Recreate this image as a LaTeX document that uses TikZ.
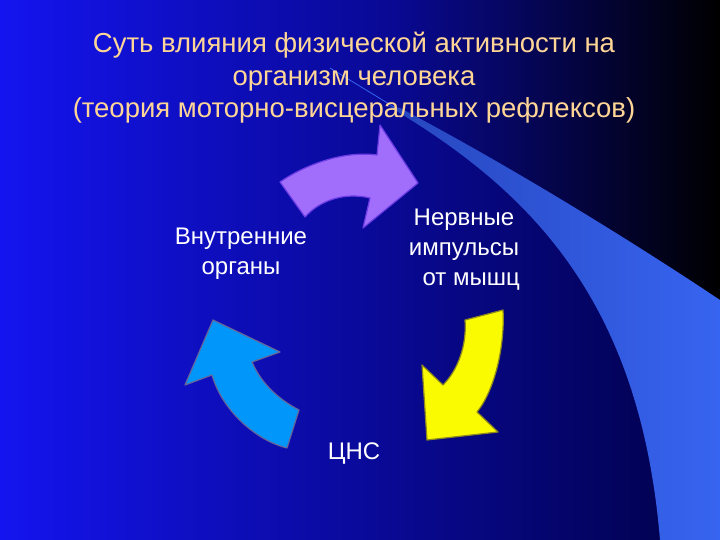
\documentclass[tikz,border=0pt]{standalone}
\usepackage{fontspec}
\setmainfont{Liberation Sans}
\begin{document}
\begin{tikzpicture}[x=1pt,y=-1pt,
  title/.style={text=titlec,font=\fontsize{27.5}{32.5}\selectfont,align=center},
  lab/.style={text=white,font=\fontsize{24}{30}\selectfont,align=center},
  arr/.style={line width=1.2pt,line join=round}]
\definecolor{titlec}{RGB}{255,214,150}
\definecolor{bgl}{RGB}{20,20,240}
\definecolor{bgr}{RGB}{0,0,70}
\definecolor{swoosh}{RGB}{55,100,240}
\definecolor{purp}{RGB}{160,110,250}
\definecolor{purpb}{RGB}{110,60,230}
\definecolor{cyanb}{RGB}{0,150,250}
\definecolor{yel}{RGB}{250,250,0}
\useasboundingbox (0,0) rectangle (720,540);
\shade[left color=bgl,right color=bgr] (0,0) rectangle (720,540);
% dark top-right region
\shade[left color=bgl!44!bgr,right color=black] (400,0) -- (720,0) -- (720,300) .. controls (600,220) and (480,150) .. (400,108) -- cycle;
% swoosh
\shade[left color=swoosh!70!bgr,right color=swoosh] (388,106) .. controls (530,190) and (640,300) .. (660,540) -- (720,540) -- (720,300) .. controls (600,220) and (480,150) .. (400,108) -- cycle;
\draw[swoosh,line width=0.8pt] (330,68) -- (394,107);
% title
\node[title] (t) at (354,78) {Суть влияния физической активности на\\организм человека\\(теория моторно-висцеральных рефлексов)};
% labels
\node[lab] (vo) at (241,254) {Внутренние\\органы};
\node[lab] (ni) at (464,250) {Нервные\\импульсы\\\hspace*{0.6em}от мышц};
\node[lab] (cns) at (354,454) {ЦНС};
% purple arrow
\draw[arr,draw=purpb,fill=purp] (280,182) .. controls (300,168) and (340,150) .. (377,155)
  -- (380,125) -- (418,183) -- (363,228) -- (370,198)
  .. controls (345,192) and (320,200) .. (305,217) -- cycle;
% yellow arrow
\draw[arr,draw=olive!80!gray,fill=yel] (503,310) .. controls (505,345) and (495,390) .. (477,412)
  -- (498,432) -- (427,440) -- (422,365) -- (443,385)
  .. controls (458,370) and (467,345) .. (465,320) -- cycle;
% cyan arrow
\draw[arr,draw=gray!80!blue,fill=cyanb] (287,448) -- (299,410)
  .. controls (280,400) and (262,385) .. (252,362)
  -- (280,352) -- (213,320) -- (185,385) -- (212,375)
  .. controls (222,410) and (255,440) .. cycle;
\end{tikzpicture}
\end{document}
